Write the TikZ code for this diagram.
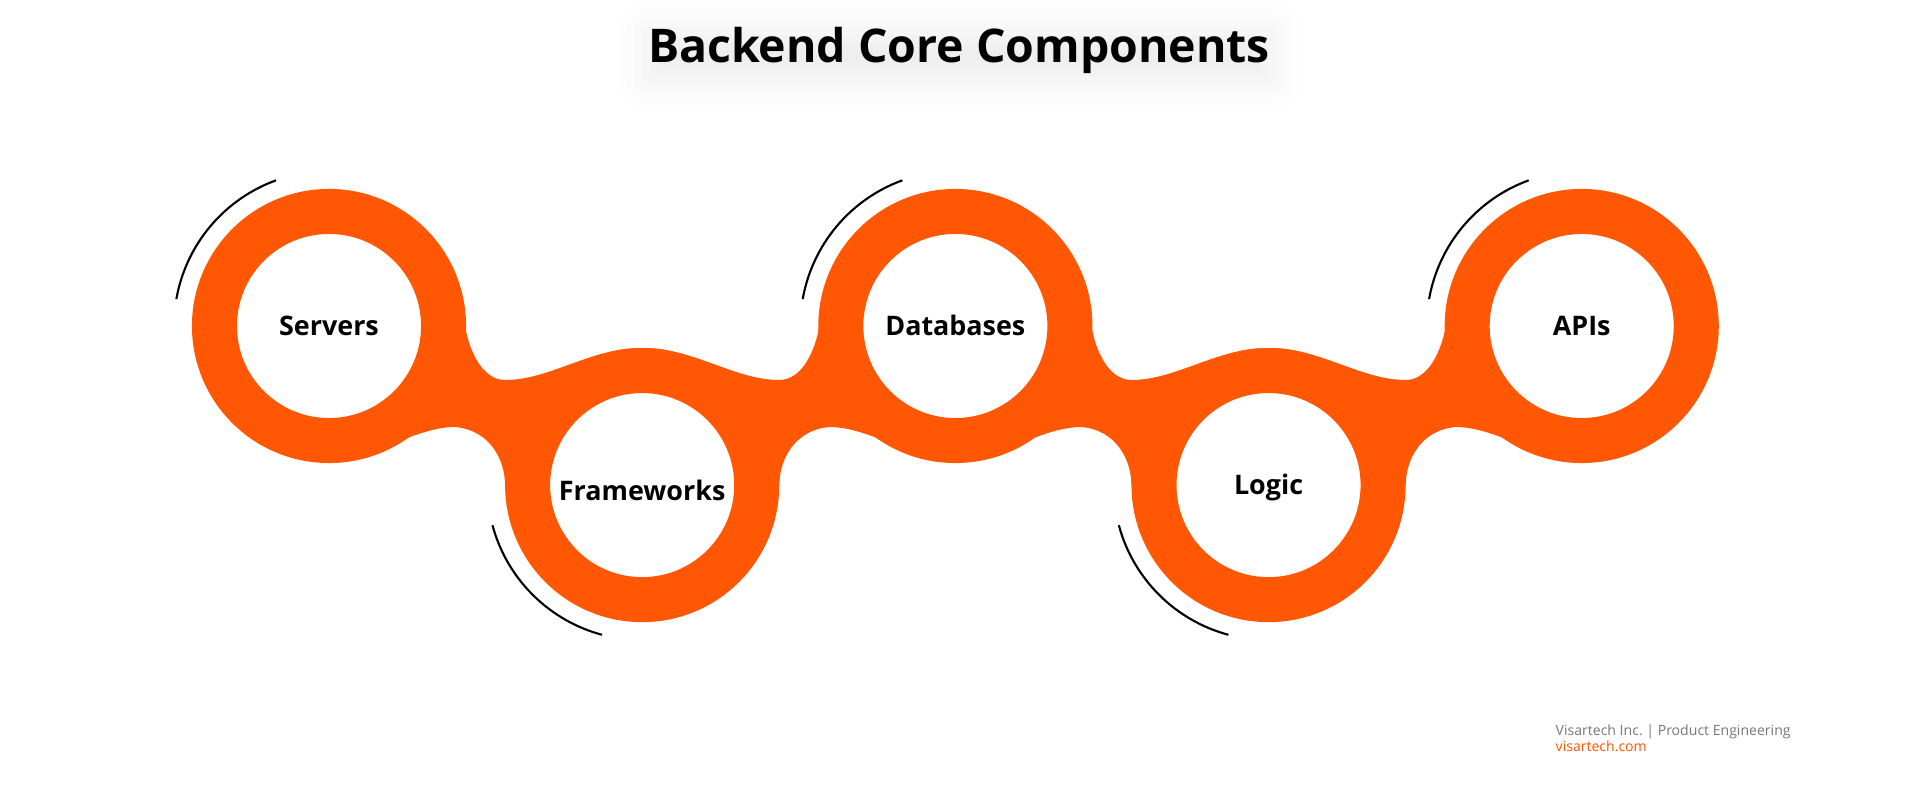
\documentclass[tikz,border=0pt]{standalone}
\usepackage{fontspec}
\setmainfont{Open Sans}
\usepackage{tikz}
\usetikzlibrary{positioning,calc,backgrounds,shadows.blur}
\definecolor{brand}{HTML}{FF5703}
\definecolor{footgray}{HTML}{777777}

\begin{document}
\begin{tikzpicture}[
  x=0.01cm, y=0.01cm, node distance=1.59cm and 3.13cm,
  hub/.style={circle, draw=brand, fill=white, line width=0.45cm, minimum size=2.29cm, inner sep=0pt,
    font=\fontsize{7.65}{9}\selectfont\bfseries, text height=5.45pt, text depth=0pt},
  heading/.style={fill=white, blend mode=multiply, inner xsep=0.02cm, inner ysep=0.02cm,
    font=\fontsize{13.2}{16}\selectfont\bfseries,
    blur shadow={shadow xshift=0pt, shadow yshift=-0.06cm, shadow blur radius=0.28cm, shadow opacity=7}},
  foot/.style={anchor=base west, inner sep=0pt, font=\fontsize{4}{5}\selectfont},
  swoosh/.style={line width=0.6pt, black},
  link/.pic={
    \fill[brand] (0,0) -- (136,0) .. controls (140,-24) and (153,-54) .. (176,-54)
      .. controls (221,-54) and (261,-22) .. (313,-22) -- (313,-159) -- (176,-159)
      .. controls (176,-134) and (161,-104) .. (126,-101)
      .. controls (86,-101) and (41,-134) .. (0,-137) -- cycle;
  }
]
\useasboundingbox (0,0) rectangle (1920,800);

% title
\node[heading] (head) at (959,750) {Backend Core Components};

% the five hubs
\node[hub] (s1) at (329,474) {Servers};
\node[hub, on grid, below right=of s1, text height=8.8pt] (s2) {Frameworks};
\node[hub, on grid, above right=of s2] (s3) {Databases};
\node[hub, on grid, below right=of s3] (s4) {Logic};
\node[hub, on grid, above right=of s4] (s5) {APIs};

% orange band behind the hubs
\begin{scope}[on background layer]
\pic at (s1.center) {link};
\pic[xscale=-1] at (s3.center) {link};
\pic at (s3.center) {link};
\pic[xscale=-1] at (s5.center) {link};
\end{scope}

% thin arcs
\draw[swoosh] (s1.center) ++(110:155) arc[start angle=110, end angle=170, radius=155];
\draw[swoosh] (s2.center) ++(195:155) arc[start angle=195, end angle=255, radius=155];
\draw[swoosh] (s3.center) ++(110:155) arc[start angle=110, end angle=170, radius=155];
\draw[swoosh] (s4.center) ++(195:155) arc[start angle=195, end angle=255, radius=155];
\draw[swoosh] (s5.center) ++(110:155) arc[start angle=110, end angle=170, radius=155];

% footer
\node[foot, text=footgray] (corp) at (1555,64) {Visartech Inc.\ | Product Engineering};
\node[foot, text=brand] (site) at (1555,48) {visartech.com};
\end{tikzpicture}
\end{document}
